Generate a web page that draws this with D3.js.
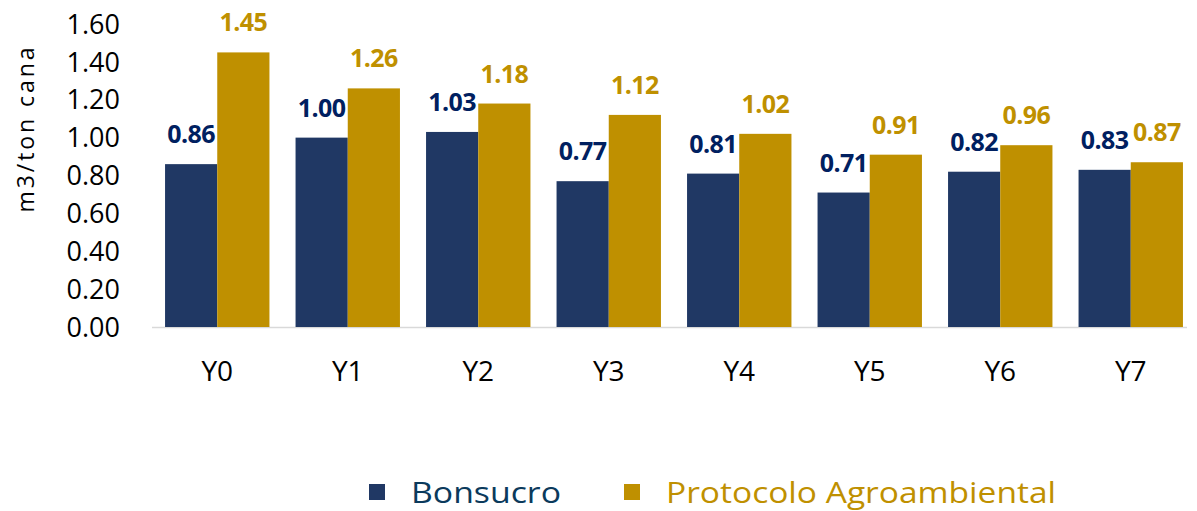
<!DOCTYPE html>
<html lang="en">
<head>
<meta charset="UTF-8">
<title>Bonsucro vs Protocolo</title>
<style>
    body { margin: 0; background: #fff; }
    text { font-family: "Open Sans", "Noto Sans", sans-serif; }
</style>
<script src="https://d3js.org/d3.v7.min.js"></script>
</head>
<body>
<script>
// chart data
const years = ["Y0", "Y1", "Y2", "Y3", "Y4", "Y5", "Y6", "Y7"];
const bonsucro = [0.86, 1.00, 1.03, 0.77, 0.81, 0.71, 0.82, 0.83];
const protocolo = [1.45, 1.26, 1.18, 1.12, 1.02, 0.91, 0.96, 0.87];
const seriesNames = ["Bonsucro", "Protocolo Agroambiental"];
const yTicks = [0, 0.2, 0.4, 0.6, 0.8, 1.0, 1.2, 1.4, 1.6];

const barColors = ["#203864", "#BF9000"];
const labelColors = ["#002060", "#BF9000"];

var W = 1197, H = 511;
var svg = d3.select("body").append("svg")
    .attr("width", W)
    .attr("height", H);

// scales
var x = d3.scaleBand()
    .domain(years)
    .range([152, 1196])
    .paddingInner(0.2)
    .paddingOuter(0.1);

var y = d3.scaleLinear()
    .domain([0, 1.6])
    .range([327, 24]);

var xInner = d3.scaleBand()
    .domain([0, 1])
    .range([0, x.bandwidth()]);

// y axis tick labels (no line)
svg.append("g").selectAll("text")
    .data(yTicks)
    .join("text")
    .attr("x", 120)
    .attr("y", d => y(d))
    .attr("dy", "0.36em")
    .attr("text-anchor", "end")
    .attr("font-size", 27)
    .attr("fill", "#000")
    .text(d => d.toFixed(2));

// axis title
svg.append("text")
    .attr("transform", "translate(34,130) rotate(-90)")
    .attr("text-anchor", "middle")
    .attr("font-size", 23)
    .attr("textLength", 165)
    .attr("lengthAdjust", "spacing")
    .attr("fill", "#000")
    .text("m3/ton cana");

// baseline
svg.append("line")
    .attr("x1", 152).attr("x2", 1187)
    .attr("y1", y(0) + 0.5).attr("y2", y(0) + 0.5)
    .attr("stroke", "#d9d9d9")
    .attr("stroke-width", 1.5);

var rows = years.map((yr, i) => ({ year: yr, vals: [bonsucro[i], protocolo[i]] }));

var groups = svg.append("g").selectAll("g")
    .data(rows)
    .join("g")
    .attr("transform", d => "translate(" + x(d.year) + ",0)");

groups.selectAll("rect")
    .data(d => d.vals)
    .join("rect")
    .attr("x", (d, i) => xInner(i))
    .attr("y", d => y(d))
    .attr("width", xInner.bandwidth())
    .attr("height", d => y(0) - y(d))
    .attr("fill", (d, i) => barColors[i]);

groups.selectAll("text.val")
    .data(d => d.vals)
    .join("text")
    .attr("class", "val")
    .attr("x", (d, i) => xInner(i) + xInner.bandwidth() / 2)
    .attr("y", d => y(d) - 21)
    .attr("text-anchor", "middle")
    .attr("font-size", 25)
    .attr("font-weight", "bold")
    .attr("letter-spacing", -0.6)
    .attr("fill", (d, i) => labelColors[i])
    .text(d => d.toFixed(2));

// category labels
svg.append("g").selectAll("text")
    .data(years)
    .join("text")
    .attr("x", d => x(d) + x.bandwidth() / 2)
    .attr("y", 381)
    .attr("text-anchor", "middle")
    .attr("font-size", 28)
    .attr("fill", "#000")
    .text(d => d);

// legend
var legendX = [369, 624];
var legendLen = [150, 390];
var legend = svg.append("g").selectAll("g")
    .data(seriesNames)
    .join("g")
    .attr("transform", (d, i) => "translate(" + legendX[i] + ",484)");

legend.append("rect")
    .attr("width", 16)
    .attr("height", 16)
    .attr("fill", (d, i) => barColors[i]);

legend.append("text")
    .attr("x", 42)
    .attr("y", 19)
    .attr("font-family", "'Roboto', sans-serif")
    .attr("font-size", 30)
    .attr("textLength", (d, i) => legendLen[i])
    .attr("lengthAdjust", "spacingAndGlyphs")
    .attr("fill", (d, i) => i === 0 ? "#0b3a5c" : "#BF9000")
    .text(d => d);
</script>
</body>
</html>
